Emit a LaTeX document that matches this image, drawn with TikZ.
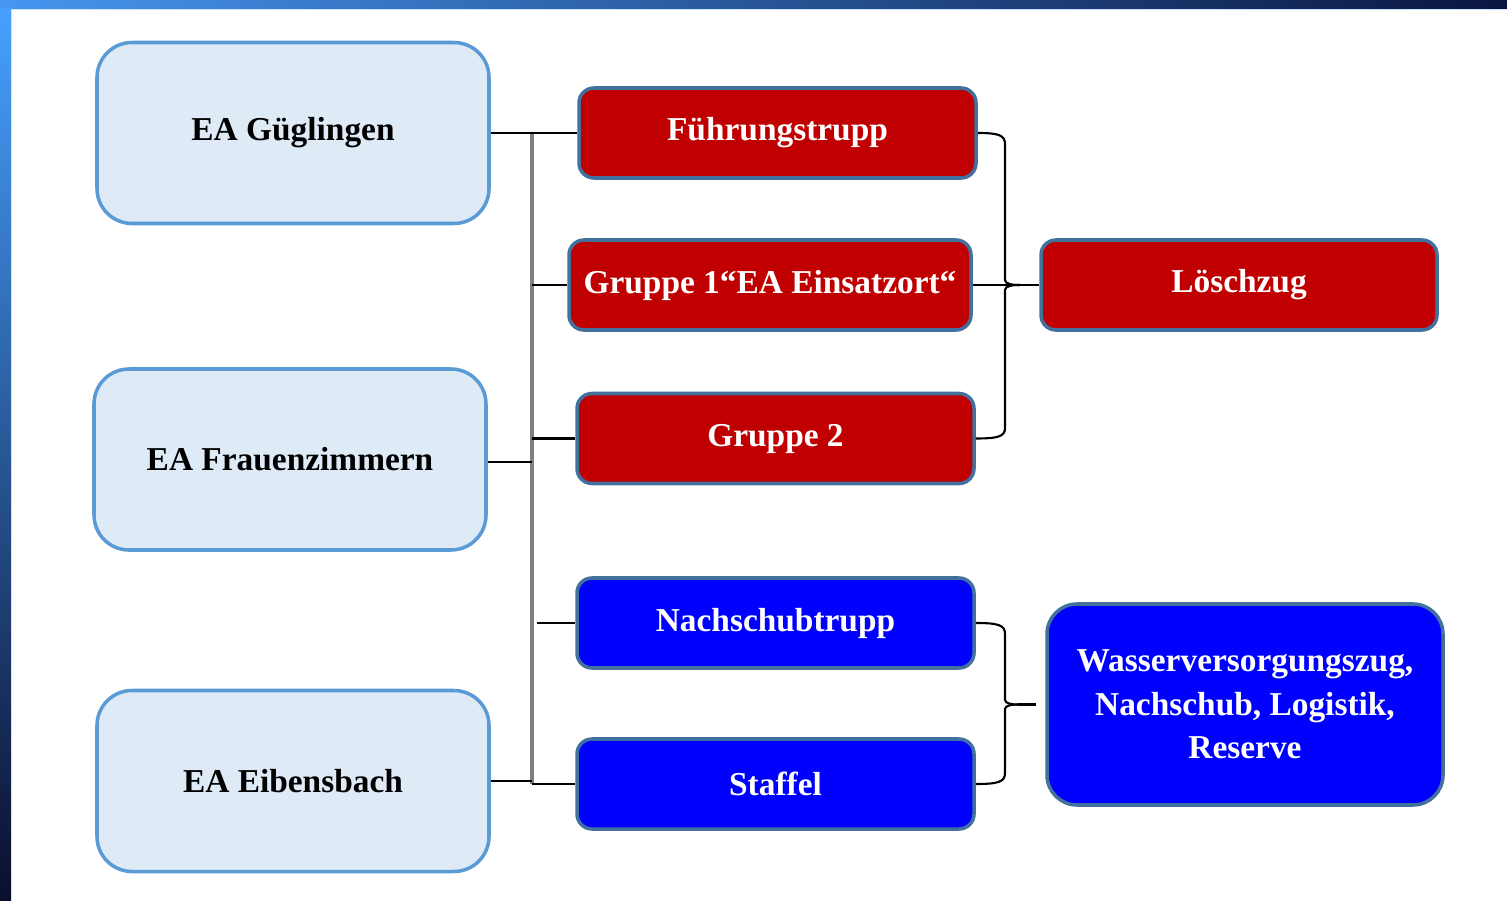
\documentclass[tikz,border=0pt]{standalone}
\usepackage{fontspec}
\setmainfont{Liberation Serif}
\definecolor{lightfill}{HTML}{DEEAF6}
\definecolor{lightedge}{HTML}{5B9BD5}
\definecolor{redfill}{HTML}{C00000}
\definecolor{bluefill}{HTML}{0000FF}
\definecolor{darkedge}{HTML}{41719C}
\tikzset{>=stealth,
  unit/.style={draw=lightedge, fill=lightfill, line width=1pt, rounded corners=0.35cm,
    minimum width=3.92cm, minimum height=1.81cm, font=\fontsize{9.5}{12.4}\selectfont\bfseries},
  redbox/.style={draw=darkedge, fill=redfill, text=white, line width=1pt, rounded corners=0.15cm,
    minimum width=3.97cm, minimum height=0.90cm, font=\fontsize{9.5}{12.4}\selectfont\bfseries},
  bluebox/.style={redbox, fill=bluefill, align=center},
  branch/.style={line width=0.6pt},
  trunk/.style={draw=gray, line width=0.9pt},
  brace/.style={line width=0.6pt}}
\begin{document}
\begin{tikzpicture}
\useasboundingbox (0,0) rectangle (15.07,9);
% frame
\shade[left color={rgb,255:red,70;green,150;blue,240}, right color={rgb,255:red,10;green,22;blue,64}] (0,8.91) rectangle (15.07,9);
\shade[top color={rgb,255:red,70;green,160;blue,255}, bottom color={rgb,255:red,10;green,14;blue,45}] (0,0) rectangle (0.11,8.91);
\draw[color={rgb,255:red,200;green,228;blue,255}, line width=0.3pt] (0.115,0) -- (0.115,8.905) -- (15.07,8.905);

% units
\node[unit] (gueg) at (2.93,7.67) {EA Güglingen};
\node[unit] (frau) at (2.90,4.405) {EA Frauenzimmern};
\node[unit] (eib) at (2.93,1.19) {EA Eibensbach};

% middle column
\node[redbox] (fuehr) at (7.775,7.67) {Führungstrupp};
\node[redbox, minimum width=4.02cm] (gr1) at (7.70,6.15) {Gruppe 1“EA Einsatzort“};
\node[redbox] (gr2) at (7.755,4.615) {Gruppe 2};
\node[bluebox] (nach) at (7.755,2.77) {Nachschubtrupp};
\node[bluebox] (staf) at (7.755,1.16) {Staffel};

% right column
\node[redbox, minimum width=3.96cm] (loesch) at (12.39,6.15) {Löschzug};
\node[bluebox, minimum width=3.96cm, minimum height=2.01cm, rounded corners=0.3cm] (wasser) at (12.45,1.955)
  {Wasserversorgungszug,\\Nachschub, Logistik,\\Reserve};

% trunk
\coordinate (ttop) at (5.32,7.67);
\coordinate (tbot) at (5.32,1.16);
\draw[trunk] (ttop) -- (tbot);
\draw[branch] (gueg.east) -- (fuehr.west);
\draw[branch] ([yshift=-0.025cm]frau.east) -- ([yshift=-0.025cm]frau.east -| ttop);
\draw[branch] (eib.east) -- (eib.east -| tbot);
\draw[branch] (tbot) -- (staf.west);
\draw[branch] (gr1.west -| ttop) -- (gr1.west);
\draw[branch] (gr2.west -| ttop) -- (gr2.west);
\draw[branch] ([xshift=0.05cm]nach.west -| ttop) -- (nach.west);

% braces
\coordinate (ltip) at (10.2,6.15);
\coordinate (wtip) at (10.18,1.955);
\draw[brace] (fuehr.east) .. controls (9.98,7.67) and (10.05,7.65) .. (10.05,7.56) -- (10.05,6.20)
  .. controls (10.05,6.16) and (10.12,6.15) .. (ltip);
\draw[brace] (gr2.east) .. controls (9.98,4.615) and (10.05,4.635) .. (10.05,4.72) -- (10.05,6.10)
  .. controls (10.05,6.14) and (10.12,6.15) .. (ltip);
\draw[branch] (gr1.east) -- (loesch.west);
\draw[brace] (nach.east) .. controls (9.98,2.77) and (10.05,2.75) .. (10.05,2.66) -- (10.05,2.00)
  .. controls (10.05,1.965) and (10.12,1.955) .. (wtip);
\draw[brace] (staf.east) .. controls (9.98,1.16) and (10.05,1.18) .. (10.05,1.27) -- (10.05,1.91)
  .. controls (10.05,1.945) and (10.12,1.955) .. (wtip);
\draw[branch] (wtip) -- ([xshift=-0.09cm]wasser.west);
\end{tikzpicture}
\end{document}
